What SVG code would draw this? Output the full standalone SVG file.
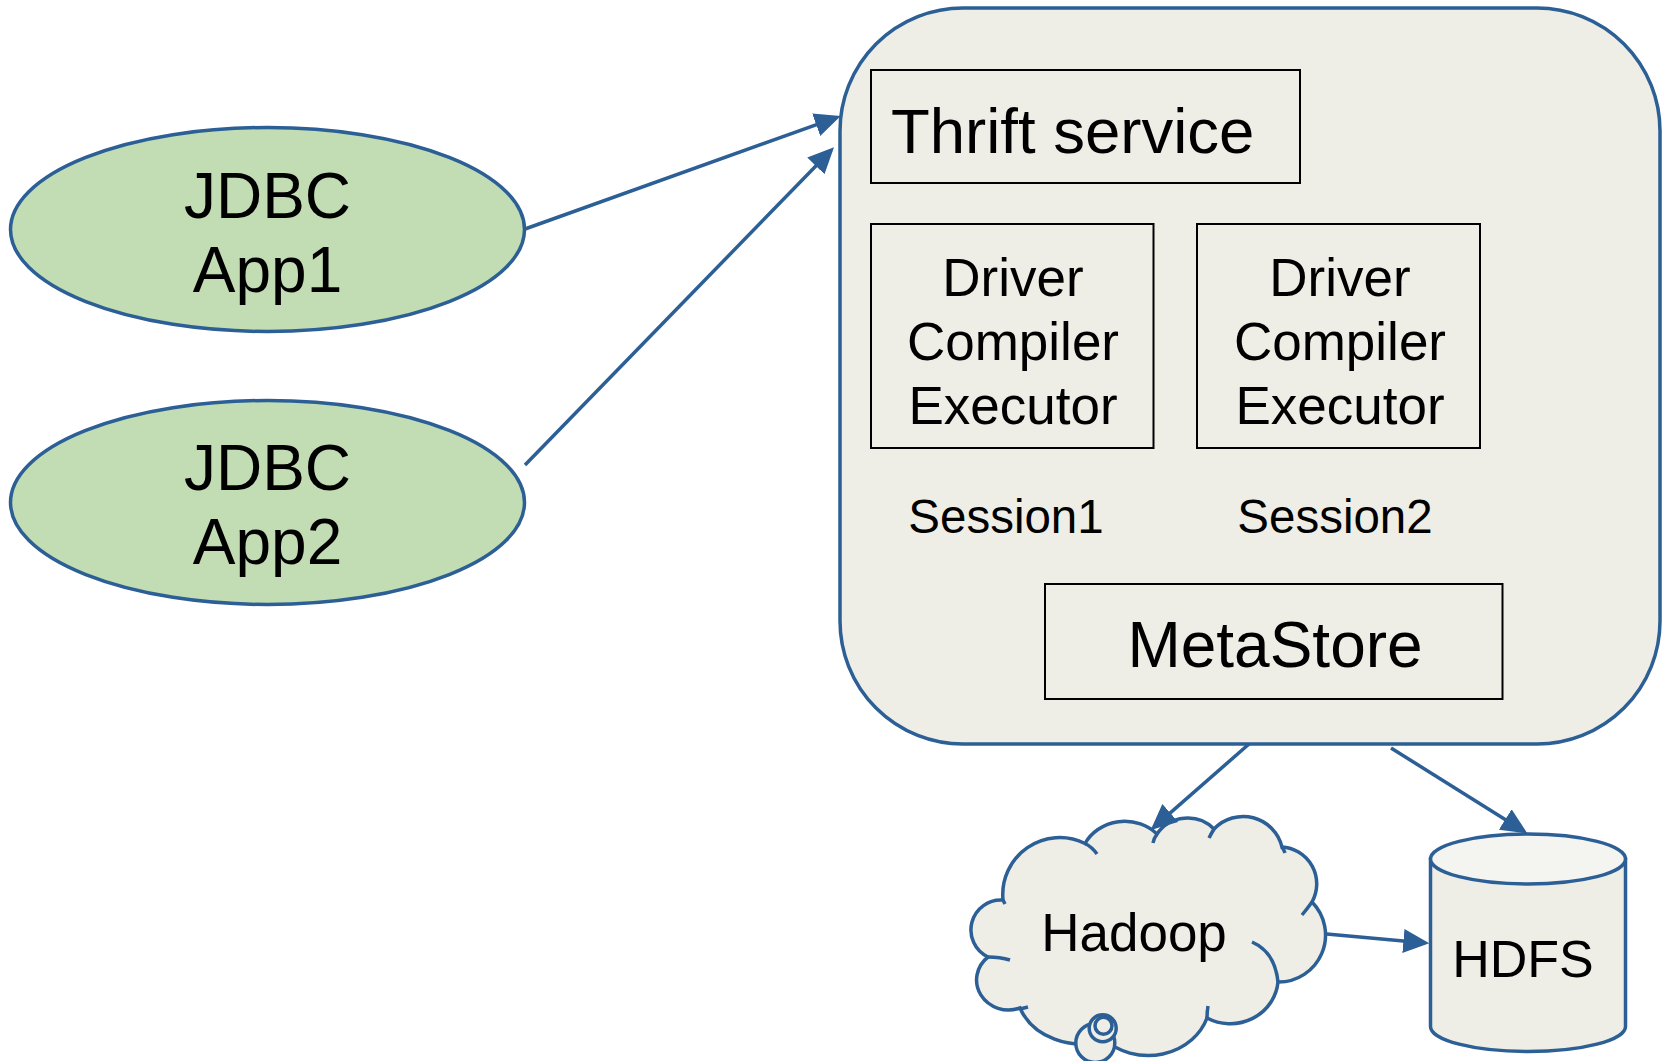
<svg xmlns="http://www.w3.org/2000/svg" width="1665" height="1061" viewBox="0 0 1665 1061">
<defs>
<style>
.blue{stroke:#2b5f95;stroke-width:3.5;}
.box{fill:#efeee6;stroke:#000;stroke-width:2;}
.t{font-family:"Liberation Sans",Arial,sans-serif;fill:#000;}
.c{text-anchor:middle;}
.conn{fill:none;stroke:#2b5f95;stroke-width:3.5;}
</style>
<marker id="ah" markerUnits="userSpaceOnUse" markerWidth="27" markerHeight="26" refX="22" refY="13" orient="auto">
<path d="M0,1 L26,13 L0,25 Z" fill="#2b5f95"/>
</marker>
</defs>
<rect width="1665" height="1061" fill="#fff"/>

<g id="app1">
<ellipse cx="267.5" cy="229.5" rx="257" ry="102" fill="#c2dcb4" class="blue"/>
<text class="t c" x="267.5" y="217.5" font-size="64">JDBC</text>
<text class="t c" x="267.5" y="292" font-size="64">App1</text>
</g>

<g id="app2">
<ellipse cx="267.5" cy="502.5" rx="257" ry="102" fill="#c2dcb4" class="blue"/>
<text class="t c" x="267.5" y="490" font-size="64">JDBC</text>
<text class="t c" x="267.5" y="564" font-size="64">App2</text>
</g>

<g id="server">
<rect x="840" y="8" width="820" height="736" rx="123" ry="123" fill="#efeee6" class="blue"/>
</g>

<g id="thrift">
<rect x="871" y="70" width="429" height="113" class="box"/>
<text class="t" x="891" y="153" font-size="63.5">Thrift service</text>
</g>

<g id="session1">
<rect x="871" y="224" width="282.5" height="224" class="box"/>
<text class="t c" x="1013" y="296" font-size="53">Driver</text>
<text class="t c" x="1013" y="360" font-size="53">Compiler</text>
<text class="t c" x="1013" y="424" font-size="53">Executor</text>
<text class="t c" x="1006" y="533" font-size="47.5">Session1</text>
</g>

<g id="session2">
<rect x="1197" y="224" width="283" height="224" class="box"/>
<text class="t c" x="1340" y="296" font-size="53">Driver</text>
<text class="t c" x="1340" y="360" font-size="53">Compiler</text>
<text class="t c" x="1340" y="424" font-size="53">Executor</text>
<text class="t c" x="1335" y="533" font-size="47.5">Session2</text>
</g>

<g id="metastore">
<rect x="1045" y="584" width="457.5" height="115" class="box"/>
<text class="t c" x="1275" y="667" font-size="64">MetaStore</text>
</g>

<g id="hadoop">
<path d="M1003,900 A57,57 0 0 1 1085,843.5 A45,42 0 0 1 1157,834 A36,34 0 0 1 1214,829 A40,40 0 0 1 1282,847 A37,37 0 0 1 1312,902 A47,47 0 0 1 1278,982 A48,46 0 0 1 1207,1018 A62,55 0 0 1 1105,1040 A65,55 0 0 1 1020,1008 A32,30 0 0 1 988,957 A30,30 0 0 1 1003,900 Z" fill="#efeee6" class="blue"/>
<path d="M1085,843.5 Q1092,847 1097,854 M1157,834 Q1154,838 1153,843 M1214,829 Q1211,834 1209,838 M1282,847 Q1284,850 1285,853 M1312,902 Q1307,909 1302,915 M1252,942 Q1275,952 1278,982 M1207,1018 Q1207,1012 1208,1006 M1028,1007 L1020,1009 M988,957 Q1000,957 1010,960 M1003,900 L1005,904" fill="none" class="blue"/>
<circle cx="1095.3" cy="1043" r="19.5" fill="#efeee6" class="blue" stroke-width="3"/>
<circle cx="1102.7" cy="1028.3" r="13.5" fill="#efeee6" class="blue" stroke-width="3"/>
<circle cx="1103.5" cy="1025.8" r="8.5" fill="#efeee6" class="blue" stroke-width="3"/>
<text class="t c" x="1134" y="951" font-size="53">Hadoop</text>
</g>

<g id="hdfs">
<path d="M1430.5,859 L1430.5,1026.5 A97.5,25 0 0 0 1625.5,1026.5 L1625.5,859 Z" fill="#efeee6" class="blue"/>
<ellipse cx="1528" cy="859" rx="97.5" ry="25" fill="#f4f4f0" class="blue"/>
<text class="t c" x="1523" y="977" font-size="52">HDFS</text>
</g>

<g id="connectors">
<line x1="525" y1="229" x2="836.9" y2="117.3" class="conn" marker-end="url(#ah)"/>
<line x1="525" y1="465" x2="831.2" y2="150.2" class="conn" marker-end="url(#ah)"/>
<line x1="1249" y1="744" x2="1153.7" y2="827.4" class="conn" marker-end="url(#ah)"/>
<line x1="1391" y1="748" x2="1523.9" y2="831.2" class="conn" marker-end="url(#ah)"/>
<line x1="1326.7" y1="934" x2="1425.3" y2="943" class="conn" marker-end="url(#ah)"/>
</g>
</svg>
